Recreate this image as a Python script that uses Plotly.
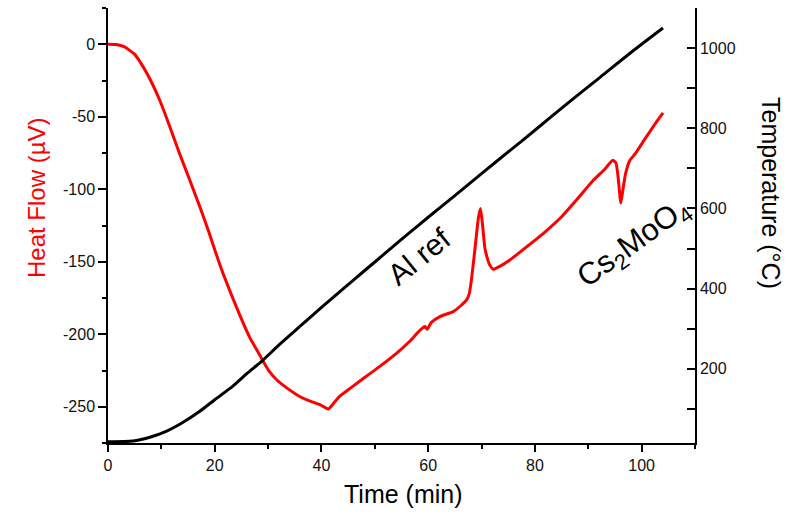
import plotly.graph_objects as go

# ---- data ----
time_T = [0, 3, 4.7, 6, 8, 10.9, 14, 17.2, 20, 23.4, 26, 28.9, 32, 35.9, 40, 44,
          48, 52, 56, 60, 65, 70, 75, 80, 86, 92.2, 98, 104]
temp_T = [18, 18.5, 20, 23, 30, 44, 66, 94, 123, 157, 188, 220, 259, 305, 353, 399,
          444, 489, 534, 578, 632, 687, 741, 795, 861, 927, 989, 1050]

time_H = [0, 1.5, 3.1, 5, 6.6, 8, 9.7, 11.5, 13.4, 15.3, 17.2, 18.8, 20.3, 21.6, 23.1,
          24.1, 25.3, 26.6, 28, 28.9, 30.2, 31.6, 33.5, 35.9, 38, 39.7, 40.6, 41.3, 42.2,
          43.4, 45.5, 48.4, 51, 54.1, 56.5, 58.4, 59.4, 59.8, 60.6, 62.2, 64.7, 66.2, 67.2,
          67.7, 68.1, 68.8, 69.4, 69.8, 70.2, 70.6, 71, 71.5, 72.2, 73.5, 75.3, 78, 81.6,
          85, 87.8, 90.9, 93, 94.6, 95.2, 95.6, 96.1, 96.5, 97, 97.8, 98.8, 100.5, 102.5, 104]
heat_H = [0, -0.2, -1.8, -7, -15.6, -25, -38.6, -56, -75.3, -93.5, -112, -128.5, -145, -158.5,
          -172.5, -181.5, -192, -202.5, -211.5, -217.5, -225.5, -231.4, -237, -242.9, -246.3,
          -248.6, -250.3, -251.6, -248, -242.9, -237, -229, -222, -213, -205, -197.5, -194.7,
          -196.5, -191.8, -187.8, -184.4, -180, -176.3, -172, -162.5, -140, -120, -113.2, -125,
          -140, -146.5, -152, -155.2, -153, -148.8, -141, -130.4, -119, -107.4, -94, -86.5, -80,
          -82, -92, -109.5, -100, -89, -80, -75.5, -66, -55, -47.3]

x_ticks = [0, 20, 40, 60, 80, 100]
hf_ticks = [0, -50, -100, -150, -200, -250]
t_ticks = [200, 400, 600, 800, 1000]

FONT = "Liberation Sans, Arial, sans-serif"
L, R, T, B = 108, 99, 8, 73
W, H = 794, 516
PW, PH = W - L - R, H - T - B


def px(xp):
    return (xp - L) / PW


def py(yp):
    return (H - B - yp) / PH


fig = go.Figure()
fig.add_trace(go.Scatter(x=time_T, y=temp_T, mode="lines", yaxis="y2",
                         line=dict(color="black", width=3, shape="spline", smoothing=0.8),
                         showlegend=False))
fig.add_trace(go.Scatter(x=time_H, y=heat_H, mode="lines", yaxis="y",
                         line=dict(color="#ff0000", width=3, shape="spline", smoothing=0.5),
                         showlegend=False))

axis_common = dict(showgrid=False, zeroline=False, showline=True, linecolor="black",
                   linewidth=1.5, tickcolor="black", tickwidth=1.5,
                   tickfont=dict(family=FONT, size=16, color="#111"))

fig.update_layout(
    width=W, height=H,
    margin=dict(l=L, r=R, t=T, b=B),
    paper_bgcolor="white", plot_bgcolor="white",
    xaxis=dict(range=[0, 110], tickvals=x_ticks, ticktext=[str(v) for v in x_ticks],
               ticks="outside", ticklen=7,
               minor=dict(dtick=10, tick0=0, ticks="outside", ticklen=4,
                          tickcolor="black", tickwidth=1.5),
               **axis_common),
    yaxis=dict(range=[-275, 25], tickvals=hf_ticks, ticktext=[str(v) for v in hf_ticks],
               ticks="outside", ticklen=8,
               minor=dict(dtick=25, tick0=0, ticks="outside", ticklen=4,
                          tickcolor="black", tickwidth=1.5),
               **axis_common),
    yaxis2=dict(range=[15, 1100], tickvals=t_ticks, ticktext=[str(v) for v in t_ticks],
                overlaying="y", side="right", ticks="inside", ticklen=8,
                minor=dict(dtick=100, tick0=0, ticks="inside", ticklen=8,
                           tickcolor="black", tickwidth=1.5),
                **axis_common),
    annotations=[
        dict(text="Heat Flow (µV)", xref="paper", yref="paper", x=px(36), y=py(198),
             textangle=-90, showarrow=False, xanchor="center", yanchor="middle",
             font=dict(family=FONT, size=24, color="#ff0000")),
        dict(text="Temperature (°C)", xref="paper", yref="paper", x=px(771), y=py(193),
             textangle=90, showarrow=False, xanchor="center", yanchor="middle",
             font=dict(family=FONT, size=25, color="black")),
        dict(text="Time (min)", xref="paper", yref="paper", x=px(404), y=py(494),
             showarrow=False, xanchor="center", yanchor="middle",
             font=dict(family=FONT, size=25, color="black")),
        dict(text="Al ref", xref="x", yref="y", x=58.3, y=-146.5, textangle=-39,
             showarrow=False, xanchor="center", yanchor="middle",
             font=dict(family=FONT, size=30, color="black")),
        dict(text="Cs<sub>2</sub>MoO<sub>4</sub>", xref="x", yref="y", x=98.6, y=-138,
             textangle=-36, showarrow=False, xanchor="center", yanchor="middle",
             font=dict(family=FONT, size=31, color="black")),
    ],
)

fig.write_html("out.html")
